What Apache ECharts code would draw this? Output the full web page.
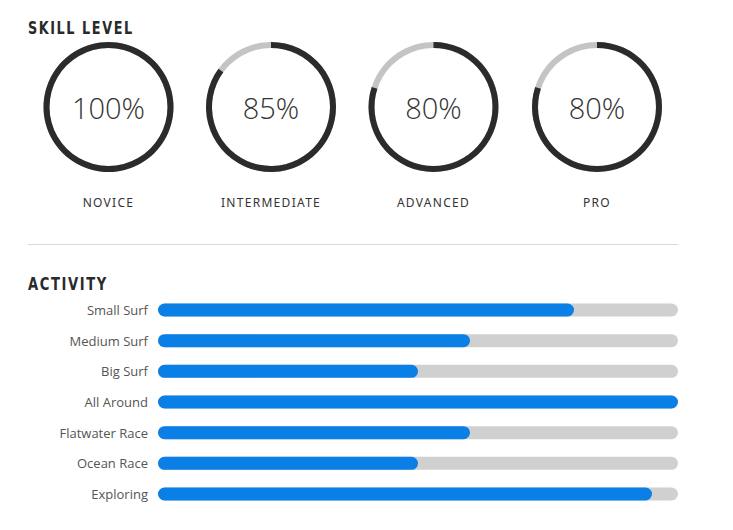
<!DOCTYPE html>
<html>
<head>
<meta charset="utf-8">
<script src="https://cdn.jsdelivr.net/npm/echarts@6/dist/echarts.min.js"></script>
<style>
  html, body { margin: 0; padding: 0; background: #fff; }
  #chart { width: 733px; height: 530px; }
  #chart text[style*="Liberation Sans Narrow"] { letter-spacing: 2px; }
  #chart text[style*="Noto Sans"] { letter-spacing: 1.3px; }
</style>
</head>
<body>
<div id="chart"></div>
<script>
// ---- data ----
const skillNames = ['NOVICE', 'INTERMEDIATE', 'ADVANCED', 'PRO'];
const skillValues = [100, 85, 80, 80];
const activityNames = ['Small Surf', 'Medium Surf', 'Big Surf', 'All Around', 'Flatwater Race', 'Ocean Race', 'Exploring'];
const activityValues = [80, 60, 50, 100, 60, 50, 95];
const titles = ['SKILL LEVEL', 'ACTIVITY'];

// ---- layout ----
const gaugeCentersX = [108.5, 271, 433.5, 597];
const gaugeCenterY = 107;

const gaugeSeries = skillNames.map((name, i) => ({
  type: 'gauge',
  center: [gaugeCentersX[i], gaugeCenterY],
  radius: 65,
  startAngle: 90,
  endAngle: -270,
  min: 0,
  max: 100,
  pointer: { show: false },
  axisTick: { show: false },
  splitLine: { show: false },
  axisLabel: { show: false },
  anchor: { show: false },
  progress: { show: true, width: 6, roundCap: false, itemStyle: { color: '#2b2b2b' } },
  axisLine: { lineStyle: { width: 6, color: [[1, '#c4c4c4']] } },
  title: {
    offsetCenter: [0, 95],
    fontFamily: 'Noto Sans',
    fontSize: 12,
    color: '#333',
    fontWeight: 'normal'
  },
  detail: {
    offsetCenter: [0, 0],
    valueAnimation: false,
    formatter: '{value}%',
    fontFamily: 'Open Sans',
    fontWeight: 300,
    fontSize: 29,
    color: '#333'
  },
  animation: false,
  data: [{ value: skillValues[i], name: name }]
}));

const titleFont = 'bold 18px "Liberation Sans Narrow", "DejaVu Sans Condensed", "Open Sans"';

const chart = echarts.init(document.getElementById('chart'), null, { renderer: 'svg' });
chart.setOption({
  animation: false,
  graphic: [
    { type: 'text', x: 28, y: 18.5, scaleX: 0.79, style: { text: titles[0], font: titleFont, fill: '#2a2a2a', verticalAlign: 'top' } },
    { type: 'text', x: 28, y: 274.5, scaleX: 0.81, style: { text: titles[1], font: titleFont, fill: '#2a2a2a', verticalAlign: 'top' } },
    { type: 'line', shape: { x1: 28, y1: 244.5, x2: 678, y2: 244.5 }, style: { stroke: '#d9d9d9', lineWidth: 1 } }
  ],
  grid: { left: 158, right: 55, top: 294.7, bottom: 20.7, containLabel: false },
  xAxis: { type: 'value', min: 0, max: 100, show: false },
  yAxis: {
    type: 'category',
    inverse: true,
    data: activityNames,
    axisLine: { show: false },
    axisTick: { show: false },
    splitLine: { show: false },
    axisLabel: { margin: 10, color: '#555', fontSize: 13, fontFamily: 'Open Sans' }
  },
  series: [
    ...gaugeSeries,
    {
      type: 'bar',
      data: activityValues,
      barWidth: 13,
      showBackground: true,
      backgroundStyle: { color: '#d0d0d0', borderRadius: 7 },
      itemStyle: { color: '#0a80e6', borderRadius: 7 },
      silent: true
    }
  ]
});
</script>
</body>
</html>
